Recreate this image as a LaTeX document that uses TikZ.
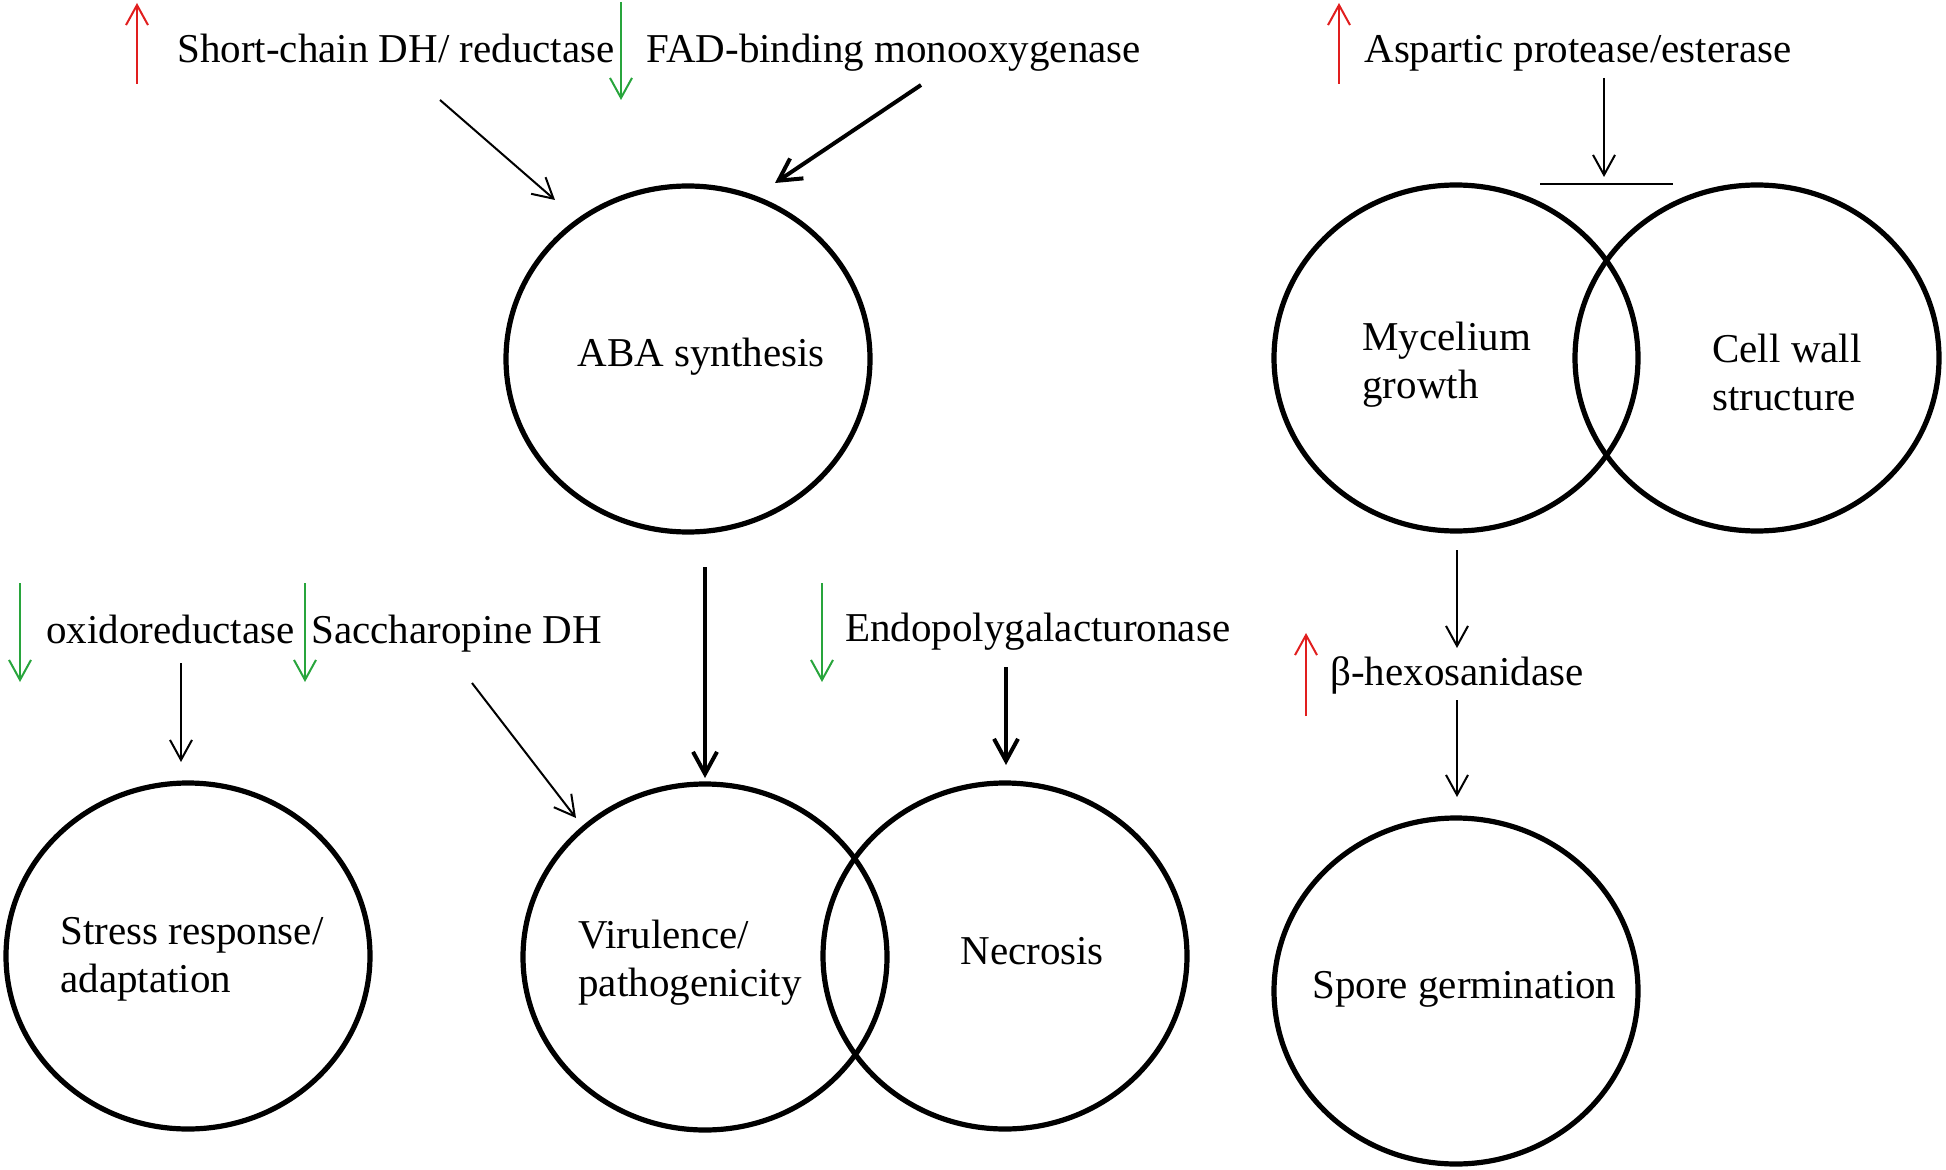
\documentclass[tikz,border=0pt]{standalone}
\usepackage{fontspec}
\setmainfont{Liberation Serif}
\usepackage{tikz}
\usetikzlibrary{arrows.meta, shapes.geometric}
\definecolor{upred}{RGB}{225,30,30}
\definecolor{downgreen}{RGB}{40,165,60}
\tikzstyle{process}=[ellipse, draw=black, line width=2.6pt, minimum width=182pt, minimum height=173pt, inner sep=0pt]
\tikzstyle{gene}=[inner sep=0pt, anchor=base west]
\tikzstyle{term}=[inner sep=0pt, anchor=west, align=left]
\tikzstyle{link}=[line width=1pt, -{Straight Barb[length=10pt, width=11pt]}]
\tikzstyle{strong}=[line width=2pt, -{Straight Barb[length=11pt, width=12pt]}]
\tikzstyle{upreg}=[upred, line width=1pt, -{Straight Barb[length=10pt, width=11pt]}]
\tikzstyle{downreg}=[downgreen, line width=1pt, -{Straight Barb[length=10pt, width=11pt]}]

\begin{document}
\begin{tikzpicture}[x=0.5pt, y=-0.5pt, font=\fontsize{20.5}{24}\selectfont]
  \useasboundingbox (0,0) rectangle (1946,1170);

  % processes
  \node[process] (aba) at (688,359) {};
  \node[process] (stress) at (188,956) {};
  \node[process] (vir) at (705,957) {};
  \node[process] (nec) at (1005,956) {};
  \node[process] (myc) at (1456,358) {};
  \node[process] (cw) at (1757,358) {};
  \node[process] (spore) at (1456,991) {};

  \node[gene] (aba-t) at (577,367) {ABA synthesis};
  \node[term] (stress-t) at (60,959) {Stress response/\\adaptation};
  \node[term] (vir-t) at (578,963) {Virulence/\\pathogenicity};
  \node[gene] (nec-t) at (960,964) {Necrosis};
  \node[term] (myc-t) at (1362,365) {Mycelium\\growth};
  \node[term] (cw-t) at (1712,372) {Cell wall\\structure};
  \node[gene] (spore-t) at (1312,998) {Spore germination};

  % genes
  \node[gene] (sdr) at (177,63) {Short-chain DH/ reductase};
  \node[gene] (fad) at (646,63) {FAD-binding monooxygenase};
  \node[gene] (asp) at (1364,63) {Aspartic protease/esterase};
  \node[gene] (ox) at (46,643) {oxidoreductase};
  \node[gene] (sac) at (311,643) {Saccharopine DH};
  \node[gene] (endo) at (845,641) {Endopolygalacturonase};
  \node[gene] (hex) at (1330,685) {β-hexosanidase};

  % up / down regulation
  \draw[upreg] ([shift={(-40,21)}]sdr.base west) -- ++(0,-81);
  \draw[downreg] ([shift={(-25,-61)}]fad.base west) -- ++(0,98);
  \draw[upreg] ([shift={(-25,21)}]asp.base west) -- ++(0,-81);
  \draw[downreg] ([shift={(-26,-60)}]ox.base west) -- ++(0,99);
  \draw[downreg] ([shift={(-6,-60)}]sac.base west) -- ++(0,99);
  \draw[downreg] ([shift={(-23,-58)}]endo.base west) -- ++(0,99);
  \draw[upreg] ([shift={(-24,31)}]hex.base west) -- ++(0,-83);

  % effects
  \coordinate (cut) at (1604,184);
  \draw[line width=1pt] ([shift={(-64,0)}]cut) -- ([shift={(69,0)}]cut);
  \draw[link] ([shift={(263,37)}]sdr.base west) -- ([shift={(-133,-159)}]aba.center);
  \draw[strong] ([shift={(275,22)}]fad.base west) -- ([shift={(87,-176)}]aba.center);
  \draw[link] ([shift={(240,15)}]asp.base west) -- ([shift={(0,-7)}]cut);
  \draw[link] ([shift={(135,20)}]ox.base west) -- ([shift={(-7,-194)}]stress.center);
  \draw[link] ([shift={(161,40)}]sac.base west) -- ([shift={(-129,-139)}]vir.center);
  \draw[strong] ([shift={(17,208)}]aba.center) -- ([shift={(0,-179)}]vir.center);
  \draw[strong] ([shift={(161,26)}]endo.base west) -- ([shift={(1,-191)}]nec.center);
  \draw[link] ([shift={(1,192)}]myc.center) -- ([shift={(127,-37)}]hex.base west);
  \draw[link] ([shift={(127,15)}]hex.base west) -- ([shift={(1,-194)}]spore.center);
\end{tikzpicture}
\end{document}
